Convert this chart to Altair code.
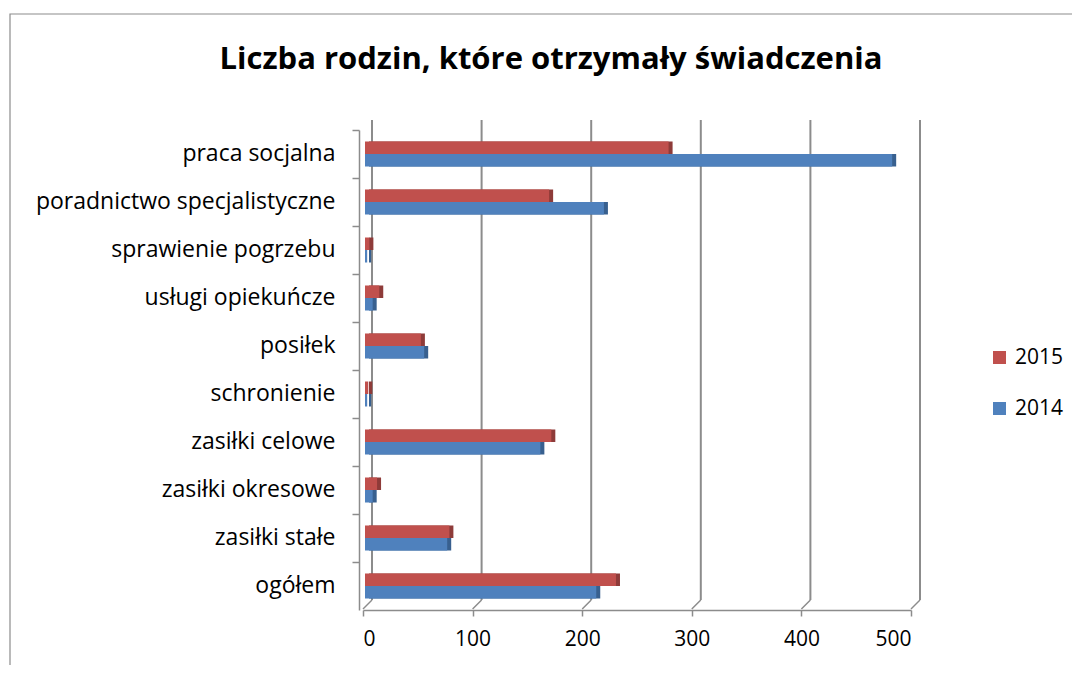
import altair as alt
import pandas as pd

categories = [
    "praca socjalna",
    "poradnictwo specjalistyczne",
    "sprawienie pogrzebu",
    "usługi opiekuńcze",
    "posiłek",
    "schronienie",
    "zasiłki celowe",
    "zasiłki okresowe",
    "zasiłki stałe",
    "ogółem",
]
years = ["2015", "2014"]
v2015 = [277, 168, 4, 13, 51, 3, 170, 11, 77, 229]
v2014 = [481, 218, 2, 7, 54, 2, 160, 7, 75, 211]
x_ticks = [0, 100, 200, 300, 400, 500]
title_text = "Liczba rodzin, które otrzymały świadczenia"

front_colors = ["#C0504D", "#4F81BD"]
depth_colors = ["#8E3B39", "#38608F"]
FONT = "Open Sans"
GRAY = "#8C8C8C"

rows = []
for c, a, b in zip(categories, v2015, v2014):
    rows.append({"cat": c, "year": "2015", "value": a})
    rows.append({"cat": c, "year": "2014", "value": b})
df = pd.DataFrame(rows)
grid_df = pd.DataFrame({"t": x_ticks})
frame_df = pd.DataFrame({"title": [title_text]})

xscale = alt.Scale(domain=[0, 500], nice=False, zero=True)
yscale = alt.Scale(domain=categories, paddingInner=0, paddingOuter=0)
yoff_scale = alt.Scale(domain=years, paddingInner=0, paddingOuter=0.92)

x_axis = alt.Axis(
    values=x_ticks, title=None, grid=False, tickSize=6, tickColor=GRAY,
    tickWidth=1.5, domainColor=GRAY, domainWidth=1.5, labelFontSize=21,
    labelFont=FONT, labelColor="black", labelPadding=12, format="d",
)
y_axis = alt.Axis(
    title=None, grid=False, bandPosition=0, tickSize=7, tickColor=GRAY, tickWidth=1.5,
    domainColor=GRAY, domainWidth=1.5, labelFontSize=23, labelFont=FONT,
    labelColor="black", labelPadding=17, offset=4, labelLimit=400,
)

frame = alt.Chart(frame_df).mark_rect(fillOpacity=0, stroke=GRAY, strokeWidth=1.2).encode(
    x=alt.value(-353), x2=alt.value(713), y=alt.value(-116), y2=alt.value(552)
)
title = alt.Chart(frame_df).mark_text(
    font=FONT, fontSize=31, fontWeight="bold", color="black", align="center", baseline="middle"
).encode(text="title:N", x=alt.value(188), y=alt.value(-70))

grid_v = alt.Chart(grid_df).mark_rule(color=GRAY, strokeWidth=2, xOffset=9).encode(
    x=alt.X("t:Q", scale=xscale, axis=x_axis),
    y=alt.value(-10),
    y2=alt.value(470),
)
grid_d = alt.Chart(grid_df).mark_rule(color=GRAY, strokeWidth=1.5, xOffset=9, x2Offset=0).encode(
    x=alt.X("t:Q", scale=xscale, axis=x_axis),
    x2="t:Q",
    y=alt.value(470),
    y2=alt.value(479),
)

depth = alt.Chart(df).mark_bar(xOffset=6, x2Offset=6, yOffset=-5.5).encode(
    x=alt.X("value:Q", scale=xscale, axis=x_axis),
    y=alt.Y("cat:N", scale=yscale, sort=categories, axis=y_axis),
    yOffset=alt.YOffset("year:N", scale=yoff_scale),
    color=alt.Color("year:N", scale=alt.Scale(domain=years, range=depth_colors), legend=None),
)

front = alt.Chart(df).mark_bar(xOffset=2, x2Offset=2, yOffset=-1.5).encode(
    x=alt.X("value:Q", scale=xscale, axis=x_axis),
    y=alt.Y("cat:N", scale=yscale, sort=categories, axis=y_axis),
    yOffset=alt.YOffset("year:N", scale=yoff_scale),
    color=alt.Color(
        "year:N",
        scale=alt.Scale(domain=years, range=front_colors),
        legend=alt.Legend(
            orient="none", legendX=626, legendY=217, title=None, symbolType="square",
            symbolSize=169, symbolStrokeWidth=0, labelFontSize=21, labelFont=FONT,
            labelColor="black", rowPadding=29, labelOffset=5,
        ),
    ),
)

chart = (
    alt.layer(frame, title, grid_v, grid_d, depth, front)
    .resolve_scale(color="independent")
    .properties(
        width=548,
        height=480,
        autosize=alt.AutoSizeParams(type="none"),
        padding={"left": 355, "top": 122, "right": 161, "bottom": 55},
        view=alt.ViewBackground(strokeWidth=0, stroke="transparent"),
    )
    .configure_view(strokeWidth=0, stroke="transparent")
    .configure_axis(grid=False)
    .configure(background="white")
)

chart.save("out.html", embed_options={"renderer": "svg", "actions": False})
